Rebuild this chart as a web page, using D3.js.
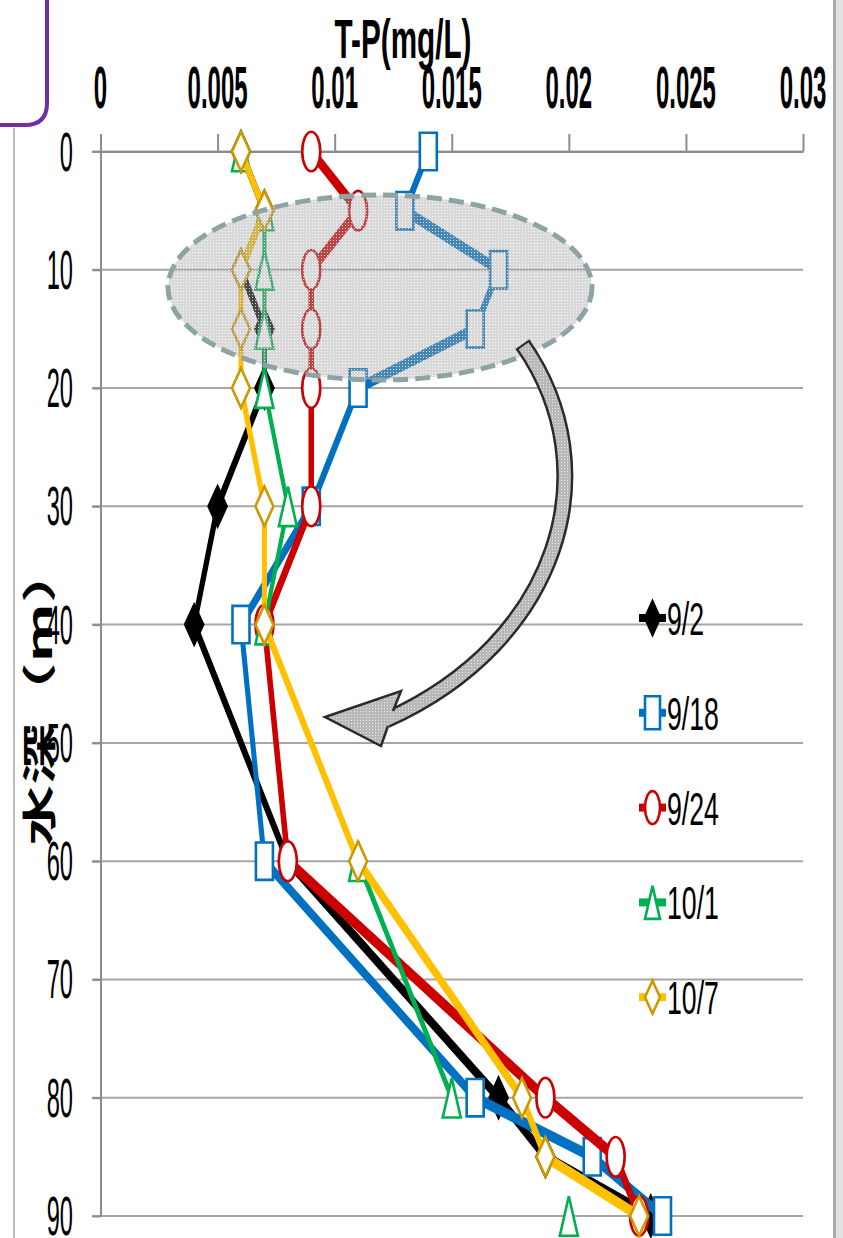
<!DOCTYPE html>
<html>
<head>
<meta charset="utf-8">
<script src="https://cdn.jsdelivr.net/npm/d3@7"></script>
<style>
  html, body { margin: 0; padding: 0; background: #ffffff; }
  svg { display: block; }
</style>
</head>
<body>
<svg id="chart" width="843" height="1238"></svg>
<script>
// Total phosphorus (T-P, mg/L) by water depth (m) for five sampling dates
const depths = [0, 5, 10, 15, 20, 30, 40, 60, 80, 85, 90];
const tp_0902 = [0.006, 0.007, 0.006, 0.007, 0.007, 0.005, 0.004, 0.008, 0.017, 0.019, 0.0235];
const tp_0918 = [0.014, 0.013, 0.017, 0.016, 0.011, 0.009, 0.006, 0.007, 0.016, 0.021, 0.024];
const tp_0924 = [0.009, 0.011, 0.009, 0.009, 0.009, 0.009, 0.007, 0.008, 0.019, 0.022, 0.023];
const tp_1001 = [0.006, 0.007, 0.007, 0.007, 0.007, 0.008, 0.007, 0.011, 0.015, null, 0.020];
const tp_1007 = [0.006, 0.007, 0.006, 0.006, 0.006, 0.007, 0.007, 0.011, 0.018, 0.019, 0.023];
const seriesNames = ["9/2", "9/18", "9/24", "10/1", "10/7"];

const xTicks = [0, 0.005, 0.01, 0.015, 0.02, 0.025, 0.03];
const xTickLabels = ["0", "0.005", "0.01", "0.015", "0.02", "0.025", "0.03"];
const yTicks = [0, 10, 20, 30, 40, 50, 60, 70, 80, 90];
const yTickLabels = ["0", "10", "20", "30", "40", "50", "60", "70", "80", "90"];
const xTitle = "T-P(mg/L)";
const yTitle = "水深（m）";

const svg = d3.select("#chart");
const K = 2.2;                       // vertical stretch of the plotted layer
const plotTop = 151.5, plotBottom = 1216, plotLeft = 100.5, plotRight = 803;

const x = d3.scaleLinear().domain([0, 0.03]).range([plotLeft, plotRight]);
const y = d3.scaleLinear().domain([0, 90]).range([plotTop, plotBottom]);
const yIn = d3.scaleLinear().domain([0, 90]).range([plotTop / K, plotBottom / K]);

const defs = svg.append("defs");
const stip = defs.append("pattern").attr("id", "stip")
  .attr("width", 3).attr("height", 3).attr("patternUnits", "userSpaceOnUse");
stip.append("rect").attr("width", 3).attr("height", 3).attr("fill", "#a4a4a4").attr("fill-opacity", 0.42);
stip.append("rect").attr("width", 1).attr("height", 1).attr("fill", "#ffffff").attr("fill-opacity", 0.8);
const stip2 = defs.append("pattern").attr("id", "stip2")
  .attr("width", 3).attr("height", 3).attr("patternUnits", "userSpaceOnUse");
stip2.append("rect").attr("width", 3).attr("height", 3).attr("fill", "#b8b8b8");
stip2.append("rect").attr("width", 1).attr("height", 1).attr("fill", "#e8e8e8");

// ---- page frame pieces ----
svg.append("rect").attr("x", 833).attr("y", 0).attr("width", 3).attr("height", 1238).attr("fill", "#a9a9a9");
svg.append("rect").attr("x", 836).attr("y", 0).attr("width", 7).attr("height", 1238).attr("fill", "#e2e2e2");
svg.append("line").attr("x1", 14).attr("x2", 14).attr("y1", 128).attr("y2", 1238)
  .attr("stroke", "#a6a6a6").attr("stroke-width", 1.5);
svg.append("path").attr("d", "M47,0 V103 Q47,125 25,125 H0")
  .attr("fill", "none").attr("stroke", "#7030a0").attr("stroke-width", 4);

// ---- gridlines ----
svg.append("g").selectAll("line").data(yTicks).join("line")
  .attr("x1", 92).attr("x2", plotRight)
  .attr("y1", d => y(d)).attr("y2", d => y(d))
  .attr("stroke", "#a6a6a6").attr("stroke-width", 2);

// ---- axes ----
const gx = svg.append("g").attr("transform", `translate(0,${plotTop})`)
  .call(d3.axisTop(x).tickValues(xTicks).tickSize(17.5).tickSizeOuter(0).tickFormat(""));
gx.select(".domain").attr("stroke", "#8c8c8c").attr("stroke-width", 2);
gx.selectAll(".tick line").attr("stroke", "#8c8c8c").attr("stroke-width", 2);

const gy = svg.append("g").attr("transform", `translate(${plotLeft},0)`)
  .call(d3.axisLeft(y).tickValues(yTicks).tickSize(8).tickSizeOuter(0).tickFormat(""));
gy.select(".domain").attr("stroke", "#8c8c8c").attr("stroke-width", 2);
gy.selectAll(".tick line").attr("stroke", "#8c8c8c").attr("stroke-width", 2);

// tick labels (narrow, tall lettering)
svg.append("g").selectAll("text").data(xTicks).join("text")
  .attr("transform", d => `translate(${x(d)},108) scale(0.4,1)`)
  .attr("text-anchor", "middle")
  .attr("font-family", "'Liberation Sans', Arial, sans-serif")
  .attr("font-weight", "bold").attr("font-size", 60).attr("fill", "#000")
  .text((d, i) => xTickLabels[i]);

svg.append("g").selectAll("text").data(yTicks).join("text")
  .attr("transform", d => `translate(73,${y(d) + 19}) scale(0.43,1)`)
  .attr("text-anchor", "end")
  .attr("font-family", "'Liberation Sans', Arial, sans-serif")
  .attr("font-size", 55).attr("fill", "#000")
  .text((d, i) => yTickLabels[i]);

// axis titles
svg.append("text")
  .attr("transform", "translate(403,58) scale(0.54,1)")
  .attr("text-anchor", "middle")
  .attr("font-family", "'Liberation Sans', Arial, sans-serif")
  .attr("font-weight", "bold").attr("font-size", 55).attr("fill", "#000")
  .text(xTitle);

svg.append("text")
  .attr("transform", "translate(37,694) rotate(-90) scale(1.8,1)")
  .attr("text-anchor", "middle").attr("dominant-baseline", "central")
  .attr("font-family", "'Noto Sans CJK JP', 'Noto Sans CJK SC', sans-serif")
  .attr("font-weight", "bold").attr("font-size", 34).attr("fill", "#000")
  .text(yTitle);

// ---- series ----
const series = [
  { name: seriesNames[0], values: tp_0902, line: "#000000", stroke: "#000000", fill: "#000000", shape: "diamond",  width: 5 },
  { name: seriesNames[1], values: tp_0918, line: "#0070c0", stroke: "#0070c0", fill: "#ffffff", shape: "square",   width: 5 },
  { name: seriesNames[2], values: tp_0924, line: "#cc0000", stroke: "#cc0000", fill: "#ffffff", shape: "circle",   width: 5.5 },
  { name: seriesNames[3], values: tp_1001, line: "#00b050", stroke: "#00b050", fill: "#ffffff", shape: "triangle", width: 4 },
  { name: seriesNames[4], values: tp_1007, line: "#ffc000", stroke: "#cc9900", fill: "#ffffff", shape: "diamond",  width: 5 }
];

function shapePath(shape, w, h) {
  switch (shape) {
    case "square":   return `M${-w},${-h}H${w}V${h}H${-w}Z`;
    case "circle":   return `M${-w},0A${w},${h} 0 1,0 ${w},0A${w},${h} 0 1,0 ${-w},0Z`;
    case "triangle": return `M0,${-h}L${w},${h}L${-w},${h}Z`;
    default:         return `M0,${-h}L${w},0L0,${h}L${-w},0Z`;
  }
}

const layer = svg.append("g").attr("transform", `scale(1,${K})`);
const line = d3.line()
  .defined(d => d.v != null)
  .x(d => x(d.v)).y(d => yIn(d.depth));

series.forEach(s => {
  const pts = depths.map((dep, i) => ({ depth: dep, v: s.values[i] }));
  const g = layer.append("g");
  g.append("path").datum(pts)
    .attr("d", line)
    .attr("fill", "none").attr("stroke", s.line)
    .attr("stroke-width", s.width).attr("stroke-linejoin", "round");
  g.selectAll("path.mk").data(pts.filter(d => d.v != null)).join("path")
    .attr("class", "mk")
    .attr("transform", d => `translate(${x(d.v)},${yIn(d.depth)})`)
    .attr("d", shapePath(s.shape, s.shape === "square" ? 8.5 : 9, s.shape === "square" ? 8.5 : 9))
    .attr("fill", s.fill).attr("stroke", s.stroke)
    .attr("stroke-width", 2.6).attr("vector-effect", "non-scaling-stroke");
});

// ---- highlighted surface layer ----
svg.append("ellipse")
  .attr("cx", 380).attr("cy", 287.5).attr("rx", 212).attr("ry", 92.5)
  .attr("fill", "url(#stip)")
  .attr("stroke", "#8ea4a4").attr("stroke-width", 5)
  .attr("stroke-dasharray", "15,7");

// ---- curved arrow ----
const P0 = [523, 345], P1 = [610, 470], P2 = [560, 642], P3 = [386, 720];
const shaftD = `M${P0}C${P1} ${P2} ${P3}`;
svg.append("path").attr("d", shaftD).attr("fill", "none")
  .attr("stroke", "#2a2a2a").attr("stroke-width", 17);
svg.append("path").attr("d", shaftD).attr("fill", "none")
  .attr("stroke", "url(#stip2)").attr("stroke-width", 12);
{
  const dx = P1[0] - P0[0], dy = P1[1] - P0[1], L = Math.hypot(dx, dy);
  const nx = -dy / L * 8.5, ny = dx / L * 8.5;
  svg.append("line")
    .attr("x1", P0[0] + nx).attr("y1", P0[1] + ny)
    .attr("x2", P0[0] - nx).attr("y2", P0[1] - ny)
    .attr("stroke", "#2a2a2a").attr("stroke-width", 2);
}
const tip = [325, 717], upB = [401, 691], upN = [393, 711], loN = [388, 726], loB = [381, 746];
svg.append("path")
  .attr("d", `M${tip}L${upB}L${upN}L${loN}L${loB}Z`)
  .attr("fill", "url(#stip2)").attr("stroke", "none");
svg.append("path")
  .attr("d", `M${upN}L${upB}L${tip}L${loB}L${loN}`)
  .attr("fill", "none").attr("stroke", "#2a2a2a").attr("stroke-width", 2.5)
  .attr("stroke-linejoin", "miter");

// ---- legend ----
const legend = svg.append("g");
series.forEach((s, i) => {
  const cy = 618 + i * 94.8;
  const g = legend.append("g");
  g.append("line").attr("x1", 639).attr("x2", 666).attr("y1", cy).attr("y2", cy)
    .attr("stroke", s.line).attr("stroke-width", 8);
  g.append("path")
    .attr("transform", `translate(652.5,${cy}) scale(1,${K})`)
    .attr("d", shapePath(s.shape, 7.5, 7.5))
    .attr("fill", s.fill).attr("stroke", s.stroke)
    .attr("stroke-width", 2.6).attr("vector-effect", "non-scaling-stroke");
  g.append("text")
    .attr("transform", `translate(667,${cy + 17}) scale(0.58,1)`)
    .attr("font-family", "'Liberation Sans', Arial, sans-serif")
    .attr("font-size", 46).attr("fill", "#000")
    .text(s.name);
});
</script>
</body>
</html>
